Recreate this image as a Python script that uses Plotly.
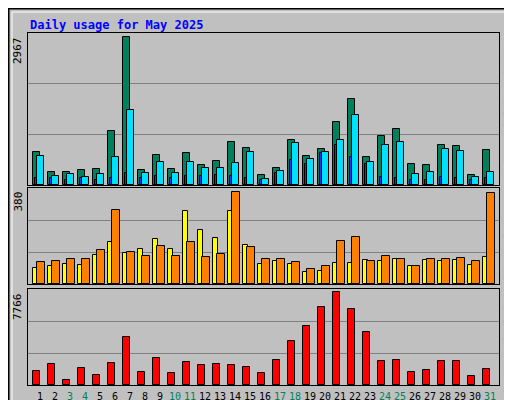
import plotly.graph_objects as go

days = list(range(1, 32))
hits = [671,269,269,309,329,1094,2967,309,611,329,651,409,490,873,752,208,349,913,591,732,1275,1718,571,993,1134,430,409,812,792,208,712]
pages = [591,188,228,168,228,571,1497,248,470,248,470,349,349,450,671,128,289,853,530,671,913,1416,470,812,873,228,269,732,691,168,269]
files = [134,134,94,134,107,134,248,148,188,134,188,188,201,188,148,107,235,510,416,651,812,571,416,168,148,94,94,168,134,94,134]
visits = [66,74,83,79,120,173,128,145,186,145,301,223,190,301,161,83,95,83,50,54,87,87,99,95,103,74,99,95,99,79,112]
sites = [91,95,103,103,141,306,132,116,157,116,174,112,124,380,153,103,103,91,62,74,178,194,95,116,103,74,103,103,107,95,376]
kbytes = [1134,1729,454,1389,878,1814,4024,1049,2239,964,1899,1644,1729,1644,1474,964,2069,3684,4959,6575,7766,6405,4449,1984,2069,1049,1219,1984,1984,794,1304]
weekend = {3,4,10,11,17,18,24,25,31}

GREY = "#C0C0C0"
fig = go.Figure()
line = dict(color="black", width=1)
def bar(x, y, w, color, ax):
    fig.add_trace(go.Bar(x=x, y=y, width=w, marker=dict(color=color, line=line),
                         xaxis=ax[0], yaxis=ax[1], showlegend=False, hoverinfo="skip"))

bar([d - 0.27 for d in days], hits, 0.46, "#00805C", ("x", "y"))
bar([d for d in days], pages, 0.46, "#00E0FF", ("x", "y"))
bar([d - 0.3 for d in days], files, 0.16, "#0040FF", ("x", "y"))
bar([d - 0.34 for d in days], visits, 0.3, "#FFFF00", ("x2", "y2"))
bar([d + 0.02 for d in days], sites, 0.5, "#FF8000", ("x2", "y2"))
bar([d - 0.25 for d in days], kbytes, 0.46, "#FF0000", ("x3", "y3"))

xd = [20/512, 491/512]
xr = [0.17, 31.57]
def xax(anchor):
    return dict(domain=xd, range=xr, showgrid=False, zeroline=False, showline=True,
                linecolor="black", mirror=True, anchor=anchor, fixedrange=True,
                showticklabels=False, ticks="")
def yax(dom, top, anchor):
    return dict(domain=dom, range=[0, top], tickvals=[top/3, 2*top/3], showticklabels=False, ticks="",
                gridcolor="#808080", gridwidth=1, zeroline=False, showline=True, linecolor="black",
                mirror=True, fixedrange=True, anchor=anchor)

fig.update_layout(
    width=512, height=400, margin=dict(l=0, r=0, t=0, b=0, autoexpand=False),
    paper_bgcolor=GREY, plot_bgcolor=GREY, barmode="overlay", bargap=0,
    xaxis=xax("y"), xaxis2=xax("y2"), xaxis3=xax("y3"),
    yaxis=yax([1-177/400, 1-25/400], 3053, "x"), yaxis2=yax([1-276/400, 1-180/400], 398, "x2"),
    yaxis3=yax([1-377/400, 1-281/400], 8042, "x3"),
)

mono = "DejaVu Sans Mono"
# day labels as annotations on the bottom x axis
for d in days:
    fig.add_annotation(x=d, y=1-388/400, xref="x3", yref="paper", text=str(d), showarrow=False,
                       yanchor="middle", xanchor="center",
                       font=dict(family=mono, size=10, color="#00805C" if d in weekend else "black"))
fig.add_annotation(x=20/512, y=1-8/400, xref="paper", yref="paper", xanchor="left", yanchor="top",
                   text="<b>Daily usage for May 2025</b>", showarrow=False,
                   font=dict(family=mono, size=12, color="#0000FF"))
for lab, ytop in [("2967", 27), ("380", 182), ("7766", 283)]:
    fig.add_annotation(x=18/512, y=1-ytop/400, xref="paper", yref="paper", xanchor="right", yanchor="top",
                       text=lab, textangle=-90, showarrow=False, font=dict(family=mono, size=11, color="black"))
legends = [
    ('<span style="color:#00E0FF">Pages</span> / <span style="color:#0040FF">Files</span> / <span style="color:#00805C">Hits</span>', 27),
    ('<span style="color:#FF8000">Sites</span> / <span style="color:#FFFF00">Visits</span>', 178),
    ('<span style="color:#FF0000">kB F</span> / <span style="color:#0080FF">kB In</span> / <span style="color:#00C000">kB Out</span>', 281),
]
for txt, ytop in legends:
    fig.add_annotation(x=509/512, y=1-ytop/400, xref="paper", yref="paper", xanchor="right", yanchor="top",
                       text=txt, textangle=-90, showarrow=False, font=dict(family=mono, size=11, color="black"))
fig.add_shape(type="rect", xref="paper", yref="paper", x0=0.001, y0=0.001, x1=0.999, y1=0.999,
              line=dict(color="black", width=2))
fig.add_shape(type="rect", xref="paper", yref="paper", x0=4/512, y0=4/400, x1=508/512, y1=396/400,
              line=dict(color="white", width=1))
fig.write_html("out.html")
